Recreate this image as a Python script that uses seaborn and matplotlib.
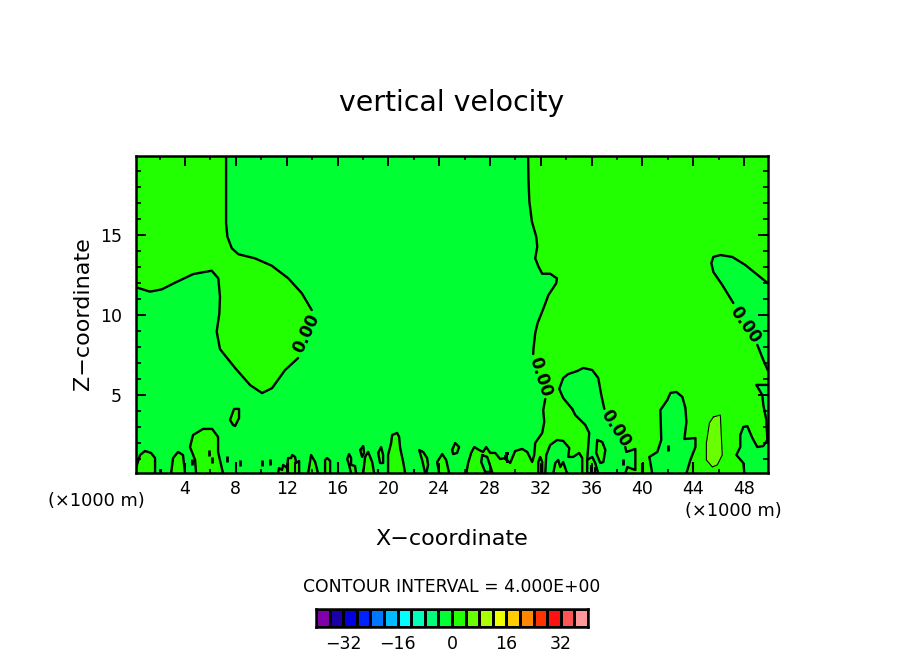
import numpy as np
import matplotlib
matplotlib.use("Agg")
import matplotlib.pyplot as plt
from matplotlib.colors import ListedColormap
import seaborn as sns

nan = float("nan")

# ---- field limits and scale ----
x_limits = [0.14, 49.88]
z_limits = [0.125, 19.94]
x_major = [4, 8, 12, 16, 20, 24, 28, 32, 36, 40, 44, 48]
x_minor = [2, 6, 10, 14, 18, 22, 26, 30, 34, 38, 42, 46]
z_major = [5, 10, 15]
z_minor = [1, 2, 3, 4, 6, 7, 8, 9, 11, 12, 13, 14, 16, 17, 18, 19]

# ---- colour bar ----
bar_levels = [-38, -34, -30, -26, -22, -18, -14, -10, -6, -2, 2, 6, 10, 14, 18, 22, 26, 30, 34, 38]
bar_colors = ["#8000aa", "#1b00a8", "#0000e0", "#0022ff", "#0077ff", "#00bbff", "#00ffff",
              "#00ffbb", "#00ff77", "#00ff33", "#22ff00", "#69ff00", "#aaff00", "#eeff00",
              "#ffcc00", "#ff8800", "#ff3300", "#ff1111", "#ff5555", "#ff9999"]
bar_tick_labels = ["\u221232", "\u221216", "0", "16", "32"]
ZERO_BELOW = "#00ff33"
ZERO_ABOVE = "#22ff00"
UPPER_BIN = "#69ff00"

# ---- zero contour, upper left region ----
left_x = [7.23, 7.23, 7.33, 7.68, 8.2, 9.51, 10.83, 12.13, 13.19, 13.97, nan,
          12.9, 11.87, 10.85, 10.06, 9.12, 7.94, 6.75, 6.49, 6.7, 6.75, 6.62, 6.1, 4.65, 3.21, 2.16, 1.24, 0.0]
left_z = [20.0, 15.75, 14.9, 14.17, 13.8, 13.54, 13.08, 12.29, 11.36, 10.31, nan,
          7.31, 6.56, 5.43, 5.12, 5.62, 6.69, 7.87, 8.96, 10.1, 11.14, 12.29, 12.77, 12.56, 12.02, 11.6, 11.46, 11.77]
left_corner_x = [0.0]
left_corner_z = [20.0]

# ---- zero contour, right region ----
right_x = [31.0, 31.03, 31.1, 31.3, 31.64, 31.72, 31.56, 31.82, 32.11, 32.74, 33.27, 33.21, 32.6, 32.21, 31.74,
           31.56, 31.42, 31.4, nan, 32.35, 32.19, 32.27, 32.11, 31.56, 31.48, 31.32, 30.93, 30.53, 29.98, 29.59,
           29.2, 28.8, 28.41, 28.02, 27.7, 27.46, 27.15, 26.76, 26.52, 26.28, 26.13]
right_z = [20.0, 18.44, 17.08, 15.83, 14.9, 14.27, 13.54, 13.02, 12.58, 12.58, 12.29, 11.98, 11.25, 10.42, 9.48,
           8.86, 7.87, 7.56, nan, 4.75, 4.06, 3.31, 2.63, 2.0, 1.25, 0.81, 1.44, 1.63, 1.5, 0.75,
           1.06, 1.0, 1.38, 1.38, 1.75, 1.44, 1.56, 1.75, 1.38, 0.75, 0.1]
right_corner_x = [50.0, 50.0]
right_corner_z = [0.1, 20.0]

# ---- below-zero pockets inside the right region ----
pocket_c_x = [34.47, 33.76, 33.45, 33.76, 34.16, 34.87, 35.34, 36.05, 36.52, 36.76, 37.0, nan,
              38.65, 38.73, 39.44, 39.44, 38.81, 38.65, 35.65, 35.65, 35.73, 35.81, 35.5, 34.71, 34.47]
pocket_c_z = [4.13, 4.81, 5.38, 6.06, 6.31, 6.5, 6.69, 6.56, 6.06, 5.0, 4.13, nan,
              1.75, 1.44, 1.63, 0.31, 0.5, 0.1, 0.1, 0.94, 1.75, 2.63, 3.13, 3.75, 4.13]
pocket_p_x = [32.35, 32.43, 32.74, 33.29, 33.76, 34.24, 34.16, 34.55, 35.02, 35.26, 35.26]
pocket_p_z = [0.1, 1.25, 1.88, 2.19, 2.13, 1.69, 1.13, 1.13, 1.38, 1.06, 0.1]
pocket_d_x = [40.77, 40.54, 41.17, 41.48, 41.41, 41.96, 42.2, 42.67, 43.14, 43.38, 43.46, 43.3, 44.17, 44.17, 43.77, 43.46]
pocket_d_z = [0.1, 1.13, 1.44, 2.19, 4.06, 4.69, 5.13, 5.19, 4.88, 4.19, 3.31, 2.25, 2.31, 1.75, 0.94, 0.1]
pocket_f_x = [48.02, 47.94, 47.39, 47.7, 47.7, 47.94, 48.25, 48.65, 49.04, 49.51, 49.83, 49.75, 49.51, 49.43, 48.96, 50.0, 50.0]
pocket_f_z = [0.1, 0.75, 1.25, 1.75, 2.5, 3.0, 3.06, 2.31, 1.75, 1.81, 2.19, 3.44, 4.38, 5.0, 5.63, 5.63, 0.1]
pocket_g_x = [50.0, 49.51, 49.04, nan, 47.15, 46.28, 45.58, 45.42, 45.58, 46.13, 47.07, 48.09, 50.0]
pocket_g_z = [6.3, 7.19, 8.13, nan, 10.75, 11.88, 12.69, 13.25, 13.63, 13.75, 13.63, 13.13, 11.9]
pocket_h_x = [27.39, 27.31, 27.62, 28.17, 27.78, 27.39]
pocket_h_z = [1.25, 0.81, 0.19, 0.19, 1.13, 1.25]
pocket_i_x = [31.8, 31.8, 31.95, 32.11, 32.11]
pocket_i_z = [0.1, 0.81, 1.13, 0.81, 0.1]

# ---- above-zero islands inside pockets ----
island_p_x = [32.98, 33.14, 33.37, 33.53, 33.76, 34.07]
island_p_z = [0.1, 0.75, 0.94, 0.5, 0.81, 0.1]
island_c_x = [36.44, 36.36, 36.68, 36.92, 37.08, 36.84, 36.44]
island_c_z = [2.19, 1.38, 0.75, 0.81, 1.56, 2.06, 2.19]
island_c2_x = [35.65, 36.05, 36.28, 36.52]
island_c2_z = [0.94, 1.13, 0.75, 0.1]

# ---- 4-and-above patch ----
patch_x = [45.58, 46.13, 46.21, 46.28, 45.89, 45.5, 45.03, 45.03, 45.27, 45.58]
patch_z = [3.63, 3.75, 2.38, 1.25, 0.63, 0.5, 0.94, 2.0, 3.25, 3.63]

# ---- low-level above-zero plumes along the ground ----
plume_1_x = [0.0, 0.46, 0.85, 1.32, 1.64, 1.64]
plume_1_z = [0.1, 1.25, 1.5, 1.38, 1.06, 0.1]
plume_2_x = [2.9, 3.06, 3.45, 3.84, 4.0]
plume_2_z = [0.1, 1.06, 1.44, 1.25, 0.1]
plume_3_x = [4.87, 4.79, 4.39, 4.63, 5.42, 6.13, 6.6, 6.6, 6.99]
plume_3_z = [0.1, 0.94, 1.75, 2.5, 2.88, 2.88, 2.38, 1.44, 0.1]
plume_4_x = [11.32, 11.4, 11.64, 11.72, 12.03, 12.11, 12.35, 12.43, 12.66, 12.74, 12.98, 12.98]
plume_4_z = [0.1, 0.44, 0.31, 0.63, 0.44, 1.06, 1.06, 1.25, 1.13, 0.75, 0.88, 0.1]
plume_5_x = [13.69, 13.92, 14.24, 14.47]
plume_5_z = [0.1, 1.25, 0.81, 0.1]
plume_6_x = [15.02, 15.02, 15.18, 15.42, 15.42]
plume_6_z = [0.1, 0.94, 1.06, 0.88, 0.1]
plume_7_x = [17.46, 17.38, 17.07, 17.07, 16.91, 16.76, 16.91, 17.07]
plume_7_z = [0.1, 0.56, 0.63, 1.06, 1.31, 1.0, 0.63, 0.1]
plume_8_x = [18.02, 18.17, 18.41, 18.73, 18.88]
plume_8_z = [0.1, 1.13, 1.44, 0.81, 0.1]
plume_9_x = [19.98, 19.98, 20.22, 20.3, 20.69, 20.85, 20.93, 21.17, 21.32]
plume_9_z = [0.1, 1.25, 2.0, 2.5, 2.63, 2.38, 1.69, 0.81, 0.1]
plume_10_x = [22.9, 22.66, 22.43, 22.74, 23.05, 23.13, 22.98]
plume_10_z = [0.1, 0.94, 1.56, 1.44, 1.06, 0.63, 0.1]
plume_11_x = [24.0, 23.84, 24.24, 24.55, 24.79]
plume_11_z = [0.1, 0.81, 1.31, 0.94, 0.1]

# ---- closed above-zero cells aloft ----
cell_1_x = [7.78, 7.54, 7.86, 8.25, 8.25, 7.94, 7.78]
cell_1_z = [3.13, 3.44, 4.13, 4.13, 3.56, 3.06, 3.13]
cell_2_x = [17.78, 18.02, 18.09, 17.94, 17.78]
cell_2_z = [1.56, 1.81, 1.38, 1.13, 1.56]
cell_3_x = [19.2, 19.43, 19.59, 19.59, 19.35, 19.2]
cell_3_z = [1.38, 1.75, 1.25, 0.75, 0.75, 1.38]
cell_4_x = [25.02, 25.26, 25.57, 25.41, 25.1, 25.02]
cell_4_z = [1.56, 2.0, 1.75, 1.38, 1.31, 1.56]
cell_5_x = [29.28, 29.12, 29.36, 29.43, 29.28]
cell_5_z = [1.44, 1.06, 0.75, 1.38, 1.44]

# ---- tiny contour fragments ----
speck_x = [5.89, 6.13, 4.55, 7.31, 10.69, 8.33, 10.06, 42.03, 38.5]
speck_z = [1.38, 0.94, 0.81, 1.0, 0.81, 0.75, 0.75, 1.69, 0.8]
stub_x = [2.11, 8.02, 16.05, 22.03, 40.06, 43.99, 19.2, 12.11, 12.66, 35.95, 36.3]
stub_z = [0.35, 0.8, 0.8, 0.35, 0.8, 0.8, 0.4, 0.8, 0.8, 0.6, 0.5]

# ---- contour labels ----
label_text = "0.00"
label_x = [13.53, 31.95, 37.85, 48.09]
label_z = [8.88, 6.13, 2.94, 9.38]
label_rotation = [65, -72, -57, -55]

sns.set_theme(style="ticks")
plt.rcParams["font.family"] = ["DejaVu Sans"]

fig = plt.figure(figsize=(9.04, 6.54), dpi=100, facecolor="white")
ax = fig.add_axes([136 / 904, 1 - 473 / 654, 632 / 904, 317 / 654])
ax.set_axisbelow(False)
ax.set_facecolor(ZERO_BELOW)
ax.set_xlim(x_limits)
ax.set_ylim(z_limits)


def solid(xs, zs, color):
    xs, zs = np.array(xs, float), np.array(zs, float)
    keep = ~np.isnan(xs)
    ax.fill(xs[keep], zs[keep], color=color, lw=0, antialiased=False, zorder=1)


def outline(xs, zs, lw=1.7):
    ax.plot(xs, zs, color="black", lw=lw, solid_joinstyle="round", zorder=3)


solid(left_x + left_corner_x, left_z + left_corner_z, ZERO_ABOVE)
outline(left_x, left_z)
solid(right_x + right_corner_x, right_z + right_corner_z, ZERO_ABOVE)
outline(right_x, right_z)

for px, pz in [(pocket_c_x, pocket_c_z), (pocket_p_x, pocket_p_z), (pocket_d_x, pocket_d_z),
               (pocket_f_x, pocket_f_z), (pocket_g_x, pocket_g_z), (pocket_h_x, pocket_h_z),
               (pocket_i_x, pocket_i_z)]:
    solid(px, pz, ZERO_BELOW)
    outline(px, pz)

for px, pz in [(island_p_x, island_p_z), (island_c_x, island_c_z), (island_c2_x, island_c2_z),
               (plume_1_x, plume_1_z), (plume_2_x, plume_2_z), (plume_3_x, plume_3_z),
               (plume_4_x, plume_4_z), (plume_5_x, plume_5_z), (plume_6_x, plume_6_z),
               (plume_7_x, plume_7_z), (plume_8_x, plume_8_z), (plume_9_x, plume_9_z),
               (plume_10_x, plume_10_z), (plume_11_x, plume_11_z), (cell_1_x, cell_1_z),
               (cell_2_x, cell_2_z), (cell_3_x, cell_3_z), (cell_4_x, cell_4_z)]:
    solid(px, pz, ZERO_ABOVE)
    outline(px, pz)

solid(cell_5_x, cell_5_z, "black")
solid(patch_x, patch_z, UPPER_BIN)
outline(patch_x, patch_z, lw=0.8)

ax.plot(speck_x, speck_z, ls="none", marker="|", ms=5, mew=2, color="black", zorder=3)
ax.vlines(stub_x, z_limits[0], stub_z, color="black", lw=1.5, zorder=3)

for lx, lz, rot in zip(label_x, label_z, label_rotation):
    ax.text(lx, lz, label_text, rotation=rot, ha="center", va="center", fontsize=12, fontweight="bold",
            color="black", rotation_mode="anchor", zorder=4)

ax.set_xticks(x_major)
ax.set_xticks(x_minor, minor=True)
ax.set_yticks(z_major)
ax.set_yticks(z_minor, minor=True)
ax.tick_params(axis="x", which="major", direction="in", length=7.5, width=1.4, top=True, bottom=True,
               labelsize=12.5, pad=5, color="black", labelcolor="black")
ax.tick_params(axis="x", which="minor", direction="in", length=3, width=1.2, top=True, bottom=True, color="black")
ax.tick_params(axis="y", which="major", direction="in", length=7, width=1.4, left=True, right=True,
               labelsize=12.5, pad=10, color="black", labelcolor="black")
ax.tick_params(axis="y", which="minor", direction="in", length=3.5, width=1.2, left=True, right=True, color="black")
for spine in ax.spines.values():
    spine.set_visible(True)
    spine.set_color("black")
    spine.set_linewidth(1.8)
    spine.set_zorder(6)

fig.text(452 / 904, 1 - 103 / 654, "vertical velocity", ha="center", va="center", fontsize=20.4, color="black")
fig.text(452 / 904, 1 - 539 / 654, "X\u2212coordinate", ha="center", va="center", fontsize=16, color="black")
fig.text(83 / 904, 1 - 314 / 654, "Z\u2212coordinate", ha="center", va="center", rotation=90, fontsize=16, color="black")
fig.text(96 / 904, 1 - 501 / 654, "(\u00d71000 m)", ha="center", va="center", fontsize=12.8, color="black")
fig.text(733 / 904, 1 - 511 / 654, "(\u00d71000 m)", ha="center", va="center", fontsize=12.8, color="black")
fig.text(452 / 904, 1 - 587 / 654, "CONTOUR INTERVAL = 4.000E+00", ha="center", va="center", fontsize=12.4, color="black")

cax = fig.add_axes([316 / 904, 1 - 627 / 654, 272 / 904, 18 / 654])
sns.heatmap(np.array([bar_levels]), cmap=ListedColormap(bar_colors), cbar=False, ax=cax,
            linewidths=1.0, linecolor="black", xticklabels=False, yticklabels=False)
cax.set_xticks([2, 6, 10, 14, 18])
cax.set_xticklabels(bar_tick_labels, fontsize=12.5, color="black", rotation=0)
cax.tick_params(axis="x", length=0, pad=6, bottom=True)
cax.tick_params(axis="y", length=0)
for spine in cax.spines.values():
    spine.set_visible(True)
    spine.set_color("black")
    spine.set_linewidth(1.8)

fig.savefig("out.png", dpi=100)
